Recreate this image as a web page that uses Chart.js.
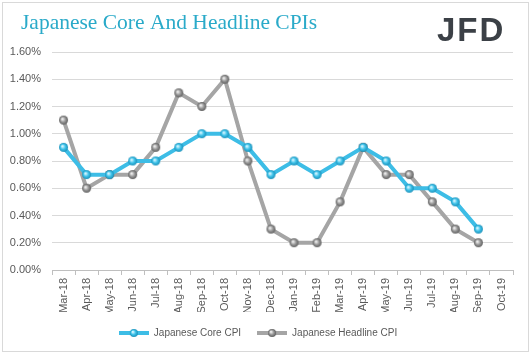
<!DOCTYPE html>
<html><head><meta charset="utf-8">
<script src="https://cdn.jsdelivr.net/npm/chart.js@4.4.1/dist/chart.umd.min.js"></script>
<style>html,body{margin:0;padding:0;background:#fff;}#wrap{width:532px;height:356px;position:relative;}</style>
</head><body><div id="wrap"><canvas id="c" width="532" height="356"></canvas></div>
<script>
const categories = ["Mar-18","Apr-18","May-18","Jun-18","Jul-18","Aug-18","Sep-18","Oct-18","Nov-18","Dec-18","Jan-19","Feb-19","Mar-19","Apr-19","May-19","Jun-19","Jul-19","Aug-19","Sep-19","Oct-19"];
const coreCPI = [0.9,0.7,0.7,0.8,0.8,0.9,1.0,1.0,0.9,0.7,0.8,0.7,0.8,0.9,0.8,0.6,0.6,0.5,0.3,null];
const headlineCPI = [1.1,0.6,0.7,0.7,0.9,1.3,1.2,1.4,0.8,0.3,0.2,0.2,0.5,0.9,0.7,0.7,0.5,0.3,0.2,null];
const yTicks = [0,0.2,0.4,0.6,0.8,1.0,1.2,1.4,1.6];
const titleText = "Japanese Core And Headline CPIs";
const logoText = "JFD";

function sphere(light, mid, dark, r) {
  const c = document.createElement('canvas');
  const s = r*2+2; c.width = s; c.height = s;
  const g = c.getContext('2d');
  const grd = g.createRadialGradient(s/2-1.2, s/2-1.2, 0.5, s/2, s/2, r);
  grd.addColorStop(0, light); grd.addColorStop(0.5, mid); grd.addColorStop(1, dark);
  g.fillStyle = grd; g.beginPath(); g.arc(s/2, s/2, r, 0, Math.PI*2); g.fill();
  return c;
}
function legendIcon(lineColor, light, mid, dark) {
  const c = document.createElement('canvas');
  c.width = 30; c.height = 10;
  const g = c.getContext('2d');
  g.strokeStyle = lineColor; g.lineWidth = 4;
  g.beginPath(); g.moveTo(0,5); g.lineTo(30,5); g.stroke();
  g.drawImage(sphere(light, mid, dark, 4), 10, 0);
  return c;
}
const coreMarker = sphere('#d8f6ff', '#3ec3ea', '#1a8fb8', 4.5);
const headMarker = sphere('#f0f0f0', '#9a9a9a', '#5e5e5e', 4.5);
const coreLeg = legendIcon('#3dbde6', '#d8f6ff', '#3ec3ea', '#1a8fb8');
const headLeg = legendIcon('#a5a5a5', '#f0f0f0', '#9a9a9a', '#5e5e5e');

const decor = {
  id: 'decor',
  beforeDraw(chart) {
    const ctx = chart.ctx;
    ctx.save();
    ctx.strokeStyle = '#d9d9d9'; ctx.lineWidth = 1;
    ctx.strokeRect(2.5, 2.5, 526, 349);
    ctx.restore();
  },
  afterDraw(chart) {
    const ctx = chart.ctx;
    ctx.save();
    ctx.fillStyle = '#2aaac9';
    ctx.font = '21.5px "Liberation Serif", "DejaVu Serif", serif';
    ctx.textBaseline = 'alphabetic';
    ctx.fillText(titleText, 21, 29);
    ctx.fillStyle = '#3b4046';
    ctx.font = 'bold 33px "Liberation Sans", Arial, sans-serif';
    ctx.letterSpacing = '2px';
    ctx.fillText(logoText, 437, 41);
    ctx.restore();
  }
};

new Chart(document.getElementById('c'), {
  type: 'line',
  data: {
    labels: categories,
    datasets: [
      { label: 'Japanese Core CPI', data: coreCPI, borderColor: '#3dbde6', borderWidth: 4,
        pointStyle: coreMarker, pointRadius: 4.5, pointHoverRadius: 4.5, tension: 0 },
      { label: 'Japanese Headline CPI', data: headlineCPI, borderColor: '#a5a5a5', borderWidth: 4,
        pointStyle: headMarker, pointRadius: 4.5, pointHoverRadius: 4.5, tension: 0 }
    ]
  },
  options: {
    responsive: false, animation: false,
    layout: { padding: { top: 52, right: 19, left: 3, bottom: 8 } },
    scales: {
      x: {
        offset: true,
        grid: { display: true, drawOnChartArea: false, drawTicks: true, tickLength: 5, color: '#bfbfbf', offset: true },
        border: { display: true, color: '#bfbfbf' },
        ticks: { color: '#595959', font: { family: '"Liberation Sans", Arial, sans-serif', size: 11 }, minRotation: 90, maxRotation: 90, padding: 3, autoSkip: false },
        afterFit(s) { s.height = 42; }
      },
      y: {
        min: 0, max: 1.6,
        afterBuildTicks(s) { s.ticks = yTicks.map(v => ({ value: v })); },
        grid: { color: '#d9d9d9', drawTicks: false },
        border: { display: false },
        ticks: { color: '#595959', font: { family: '"Liberation Sans", Arial, sans-serif', size: 11 }, padding: 11,
          callback: v => v.toFixed(2) + '%' },
        afterFit(s) { s.width = 49; }
      }
    },
    plugins: {
      legend: {
        position: 'bottom',
        labels: {
          usePointStyle: true, pointStyleWidth: 30, color: '#595959', padding: 16,
          font: { family: '"Liberation Sans", Arial, sans-serif', size: 10 },
          generateLabels(chart) {
            const base = Chart.defaults.plugins.legend.labels.generateLabels(chart);
            base[0].pointStyle = coreLeg; base[1].pointStyle = headLeg;
            return base;
          }
        }
      },
      tooltip: { enabled: false }
    }
  },
  plugins: [decor]
});
</script></body></html>
